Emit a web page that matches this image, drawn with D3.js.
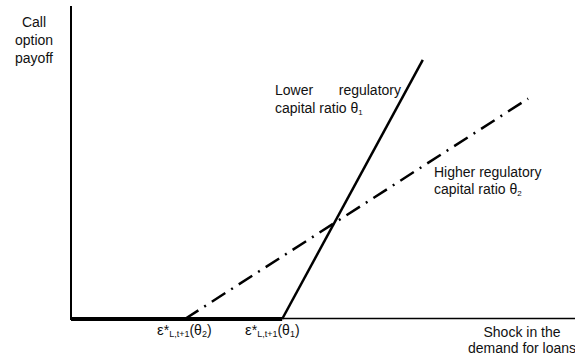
<!DOCTYPE html>
<html><head><meta charset="utf-8">
<script src="https://cdn.jsdelivr.net/npm/d3@7"></script>
<style>body{margin:0;background:#fff}svg{display:block}text{font-family:"Liberation Sans",Arial,sans-serif;fill:#111}</style>
</head><body><svg id="c" width="575" height="356"></svg>
<script>
// Data (abstract units: shock on x, payoff on y)
const threshold2 = 22.6;   // ε*(θ2)
const threshold1 = 41.9;   // ε*(θ1)
const lowerRatioLine = [{x:threshold1,y:0},{x:69.8,y:82.8}];   // θ1, solid
const higherRatioLine = [{x:threshold2,y:0},{x:90.7,y:70.4}];  // θ2, dash-dot
const zeroPayoff = [{x:0,y:0},{x:threshold1,y:0}];
const yLabel = ["Call","option","payoff"];
const xLabel = ["Shock in the","demand for loans"];

const svg = d3.select("#c");
const x = d3.scaleLinear().domain([0,100]).range([71,575]);
const y = d3.scaleLinear().domain([0,100]).range([319,6]);
const line = d3.line().x(d=>x(d.x)).y(d=>y(d.y));

// axes
svg.append("line").attr("x1",x(0)).attr("x2",x(0)).attr("y1",y(100)).attr("y2",y(0)+1).attr("stroke","#000").attr("stroke-width",2);
svg.append("line").attr("x1",x(0)).attr("x2",x(100)).attr("y1",y(0)-0.5).attr("y2",y(0)-0.5).attr("stroke","#000").attr("stroke-width",1.5);

svg.append("path").attr("d",line(zeroPayoff)).attr("stroke","#000").attr("stroke-width",4).attr("fill","none");
svg.append("path").attr("d",line(lowerRatioLine)).attr("stroke","#000").attr("stroke-width",2.5).attr("fill","none");
svg.append("path").attr("d",line(higherRatioLine)).attr("stroke","#000").attr("stroke-width",2.5).attr("fill","none")
  .attr("stroke-dasharray","16,7,2,7");

const fs = 14;
// y label
yLabel.forEach((t,i)=>svg.append("text").attr("x",34).attr("y",27+i*18).attr("text-anchor","middle").attr("font-size",fs).text(t));
// x label
xLabel.forEach((t,i)=>svg.append("text").attr("x",522).attr("y",337+i*15.5).attr("text-anchor","middle").attr("font-size",fs).text(t));

// line labels
svg.append("text").attr("x",275).attr("y",95).attr("font-size",fs).text("Lower");
svg.append("text").attr("x",401).attr("y",95).attr("text-anchor","end").attr("font-size",fs).text("regulatory");
const t1 = svg.append("text").attr("x",275).attr("y",113).attr("font-size",fs);
t1.append("tspan").text("capital ratio θ");
t1.append("tspan").attr("font-size",8).attr("dy",2).text("1");

svg.append("text").attr("x",434).attr("y",177).attr("font-size",fs).text("Higher regulatory");
const t2 = svg.append("text").attr("x",434).attr("y",194).attr("font-size",fs);
t2.append("tspan").text("capital ratio  θ");
t2.append("tspan").attr("font-size",8).attr("dy",2).text("2");

// threshold labels
function eps(xpos, sub){
  const t = svg.append("text").attr("x",xpos).attr("y",335).attr("font-size",fs);
  t.append("tspan").attr("font-size",15).text("ε");
  t.append("tspan").text("*");
  t.append("tspan").attr("font-size",9).attr("dy",2).text("L,t+1");
  t.append("tspan").attr("dy",-2).text("(θ");
  t.append("tspan").attr("font-size",9).attr("dy",2).text(sub);
  t.append("tspan").attr("dy",-2).text(")");
}
eps(157,"2");
eps(245,"1");
</script></body></html>
